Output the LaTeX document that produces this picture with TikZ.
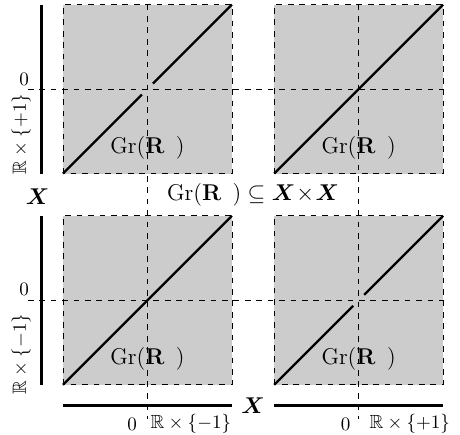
\documentclass[tikz,border=0pt]{standalone}
\usepackage{amsmath,amssymb}
\tikzset{
  square/.style={fill=gray!40, draw, dashed},
  guide/.style={dashed},
  axis/.style={line width=1.5pt},
  graphline/.style={very thick},
  big/.style={font=\large},
}
\newcommand{\grR}{\mathrm{Gr}(\mathbf{R}\hspace{0.5em})}
\begin{document}
\begin{tikzpicture}[x=0.78cm, y=0.78cm]
  \useasboundingbox (-1.49,-1.18) rectangle (9.40,9.11);

  % the four blocks
  \foreach \x/\y in {0/0, 5/0, 0/5, 5/5}
    \draw[square] (\x,\y) rectangle ++(4,4);

  % zero lines
  \draw[guide] (-0.83,7) -- (9,7);
  \draw[guide] (-0.83,2) -- (9,2);
  \draw[guide] (2,9) -- (2,-0.8);
  \draw[guide] (7,9) -- (7,-0.8);

  % axes
  \draw[axis] (-0.5,5) -- (-0.5,9);
  \draw[axis] (-0.5,0) -- (-0.5,4);
  \draw[axis] (0,-0.5) -- (4,-0.5);
  \draw[axis] (5,-0.5) -- (9,-0.5);

  % graphs
  \draw[graphline] (0,5) -- (1.87,6.87);
  \draw[graphline] (2.13,7.13) -- (4,9);
  \draw[graphline] (5,5) -- (9,9);
  \draw[graphline] (0,0) -- (4,4);
  \draw[graphline] (5,0) -- (6.87,1.87);
  \draw[graphline] (7.13,2.13) -- (9,4);

  \node[big] (gr_tl) at (2,5.62) {$\grR$};
  \node[big] (gr_tr) at (7,5.62) {$\grR$};
  \node[big] (gr_bl) at (2,0.62) {$\grR$};
  \node[big] (gr_br) at (7,0.62) {$\grR$};
  \node[big] (incl) at (4.5,4.5) {$\grR\subseteq\boldsymbol{X}\!\times\!\boldsymbol{X}$};

  % axis labels
  \node[big] (x_left) at (-0.6,4.45) {$\boldsymbol{X}$};
  \node[big] (x_bottom) at (4.5,-0.5) {$\boldsymbol{X}$};
  \node (zero_top) at (-0.92,7.23) {$0$};
  \node (zero_low) at (-0.92,2.25) {$0$};
  \node[rotate=90] (plus_left) at (-0.99,5.94) {$\mathbb{R}\times\{+1\}$};
  \node[rotate=90] (minus_left) at (-0.99,0.73) {$\mathbb{R}\times\{-1\}$};
  \node (zero_bl) at (1.64,-0.93) {$0$};
  \node (minus_bottom) at (3.03,-0.93) {$\mathbb{R}\times\{-1\}$};
  \node (zero_br) at (6.69,-0.93) {$0$};
  \node (plus_bottom) at (8.21,-0.93) {$\mathbb{R}\times\{+1\}$};
\end{tikzpicture}
\end{document}
